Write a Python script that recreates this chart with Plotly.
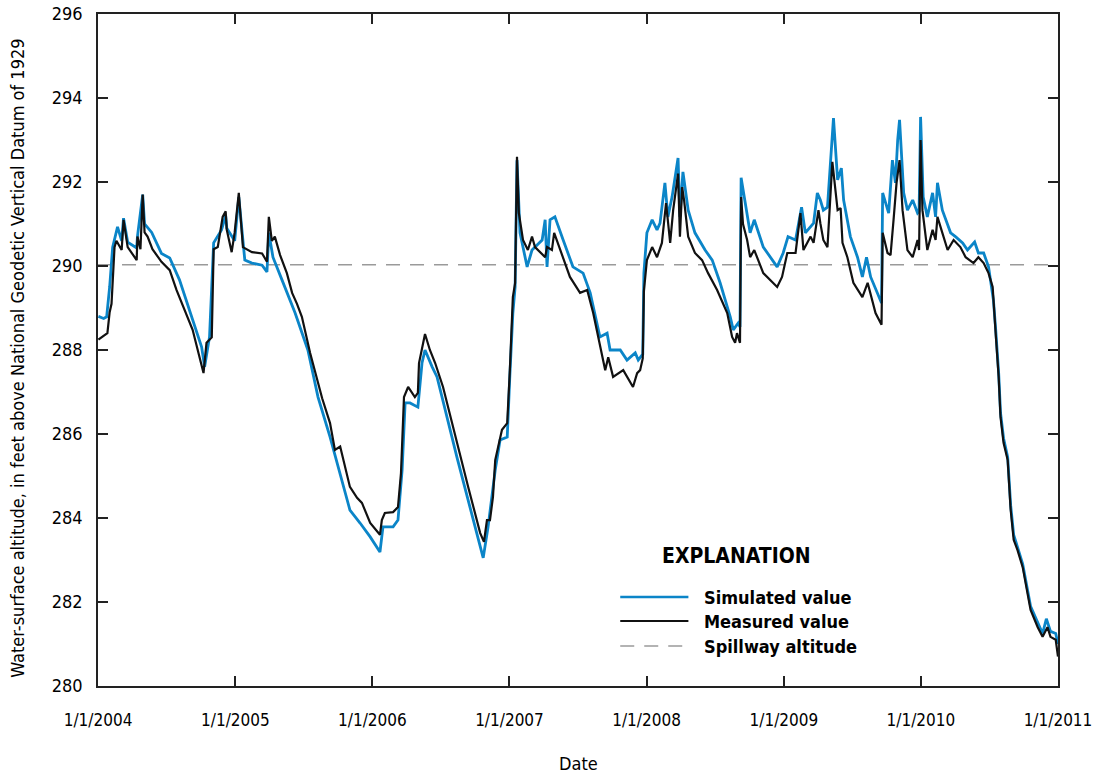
import plotly.graph_objects as go

# ---------------- data ----------------
measured_dates = [
    "2004-01-02", "2004-01-16", "2004-01-26", "2004-02-01", "2004-02-06", "2004-02-14", "2004-02-19",
    "2004-03-04", "2004-03-09", "2004-03-20", "2004-04-13", "2004-04-15", "2004-04-23", "2004-04-29",
    "2004-05-04", "2004-05-12", "2004-05-25", "2004-06-18", "2004-07-10", "2004-07-28", "2004-08-19",
    "2004-09-09", "2004-10-08", "2004-10-16", "2004-10-30", "2004-11-04", "2004-11-15", "2004-11-28",
    "2004-12-06", "2004-12-09", "2004-12-22", "2004-12-30",
    "2005-01-10", "2005-01-21", "2005-02-14", "2005-03-13", "2005-03-26", "2005-03-31", "2005-04-08",
    "2005-04-16", "2005-04-30", "2005-05-18", "2005-06-01", "2005-06-14", "2005-06-27", "2005-07-19",
    "2005-08-20", "2005-09-10", "2005-09-23", "2005-10-07", "2005-11-02", "2005-11-21", "2005-12-04",
    "2005-12-26",
    "2006-01-21", "2006-01-26", "2006-02-03", "2006-02-25", "2006-03-10", "2006-03-18", "2006-03-26",
    "2006-04-06", "2006-04-24", "2006-05-02", "2006-05-05", "2006-05-18", "2006-05-21", "2006-06-03",
    "2006-06-17", "2006-07-08", "2006-08-14", "2006-09-13", "2006-10-15", "2006-10-25", "2006-11-02",
    "2006-11-10", "2006-11-18", "2006-11-24", "2006-12-12", "2006-12-26",
    "2007-01-02", "2007-01-08", "2007-01-10", "2007-01-16", "2007-01-21", "2007-01-26", "2007-02-06",
    "2007-02-19", "2007-03-02", "2007-03-10", "2007-04-06", "2007-04-11", "2007-04-24", "2007-04-30",
    "2007-05-16", "2007-06-11", "2007-07-08", "2007-07-27", "2007-08-12", "2007-09-05", "2007-09-13",
    "2007-09-21", "2007-10-04", "2007-10-31", "2007-11-26", "2007-12-07", "2007-12-15", "2007-12-22",
    "2007-12-25",
    "2008-01-02", "2008-01-16", "2008-01-29", "2008-02-11", "2008-02-22", "2008-03-04", "2008-03-12",
    "2008-03-25", "2008-03-30", "2008-04-05", "2008-04-10", "2008-04-21", "2008-05-09", "2008-05-28",
    "2008-06-13", "2008-07-07", "2008-08-03", "2008-08-16", "2008-08-24", "2008-08-29", "2008-09-06",
    "2008-09-09", "2008-09-14", "2008-09-25", "2008-10-03", "2008-10-14", "2008-11-07", "2008-12-14",
    "2008-12-27",
    "2009-01-10", "2009-02-01", "2009-02-14", "2009-02-22", "2009-03-13", "2009-03-21", "2009-04-03",
    "2009-04-08", "2009-04-16", "2009-04-27", "2009-05-10", "2009-05-24", "2009-06-01", "2009-06-06",
    "2009-06-19", "2009-07-05", "2009-07-29", "2009-08-12", "2009-09-02", "2009-09-18", "2009-09-21",
    "2009-10-04", "2009-10-12", "2009-10-20", "2009-10-28", "2009-11-05", "2009-11-13", "2009-11-26",
    "2009-12-10", "2009-12-23", "2009-12-27", "2009-12-31",
    "2010-01-05", "2010-01-18", "2010-02-01", "2010-02-09", "2010-02-14", "2010-02-27", "2010-03-13",
    "2010-03-29", "2010-04-16", "2010-04-30", "2010-05-21", "2010-06-03", "2010-06-17", "2010-06-30",
    "2010-07-11", "2010-07-19", "2010-07-27", "2010-08-01", "2010-08-09", "2010-08-20", "2010-08-28",
    "2010-09-05", "2010-09-15", "2010-09-29", "2010-10-20", "2010-11-08", "2010-11-21", "2010-12-04",
    "2010-12-12", "2010-12-26", "2011-01-01",
]
measured_values = [
    288.25, 288.35, 288.4, 288.9, 289.1, 290.45, 290.6,
    290.38, 291.1, 290.45, 290.14, 290.7, 290.4, 291.7,
    290.8, 290.7, 290.4, 290.1, 289.9, 289.43, 288.95,
    288.48, 287.45, 288.17, 288.3, 290.4, 290.45, 291.17,
    291.3, 290.86, 290.33, 290.8,
    291.74, 290.45, 290.33, 290.3, 290.1, 291.17, 290.6,
    290.7, 290.26, 289.83, 289.36, 289.1, 288.79, 287.93,
    286.85, 286.26, 285.62, 285.7, 284.74, 284.48, 284.36,
    283.88,
    283.6, 283.95, 284.12, 284.14, 284.26, 285.07, 286.88,
    287.12, 286.88, 286.98, 287.69, 288.31, 288.38, 288.0,
    287.69, 287.12, 285.79, 284.74, 283.64, 283.43, 283.95,
    283.95, 284.5, 285.38, 286.1, 286.26,
    287.52, 288.71, 289.26, 289.6, 292.6, 291.26, 290.62,
    290.38, 290.7, 290.45, 290.21, 290.45, 290.38, 290.79,
    290.38, 289.74, 289.36, 289.43, 288.88, 287.83, 287.52,
    287.83, 287.36, 287.52, 287.12, 287.45, 287.52, 287.8,
    289.4,
    290.14, 290.45, 290.21, 290.55, 291.5, 290.55, 291.33,
    292.2, 290.7, 291.88, 291.57, 290.7, 290.31, 290.14,
    289.83, 289.43, 288.88, 288.31, 288.17, 288.4, 288.17,
    291.64, 291.0, 290.62, 290.21, 290.38, 289.83, 289.5,
    289.74,
    290.31, 290.31, 291.26, 290.38, 290.7, 290.55, 291.33,
    291.02, 290.62, 290.45, 292.48, 291.33, 291.38, 290.55,
    290.21, 289.6, 289.26, 289.6, 288.88, 288.6, 290.79,
    290.31, 290.26, 291.1, 291.98, 292.52, 291.33, 290.38,
    290.21, 290.62, 290.38, 293.0,
    291.33, 290.38, 290.86, 290.62, 291.17, 290.79, 290.38,
    290.62, 290.45, 290.21, 290.07, 290.21, 290.07, 289.83,
    289.5, 288.4, 287.36, 286.4, 285.79, 285.38, 284.19,
    283.48, 283.24, 282.83, 281.81, 281.4, 281.17, 281.4,
    281.17, 281.1, 280.7,
]

simulated_dates = [
    "2004-01-02", "2004-01-16", "2004-01-24", "2004-02-01", "2004-02-09", "2004-02-22", "2004-03-04",
    "2004-03-09", "2004-03-20", "2004-04-13", "2004-04-15", "2004-04-29", "2004-05-04", "2004-05-23",
    "2004-06-18", "2004-07-10", "2004-08-05", "2004-09-01", "2004-10-03", "2004-10-11", "2004-10-24",
    "2004-11-04", "2004-11-25", "2004-12-06", "2004-12-09", "2004-12-30",
    "2005-01-10", "2005-01-26", "2005-02-14", "2005-03-13", "2005-03-26", "2005-03-31", "2005-04-11",
    "2005-05-05", "2005-06-09", "2005-07-13", "2005-08-09", "2005-09-10", "2005-09-29", "2005-11-02",
    "2005-11-29", "2005-12-26",
    "2006-01-21", "2006-01-29", "2006-02-25", "2006-03-10", "2006-03-21", "2006-03-29", "2006-04-11",
    "2006-05-02", "2006-05-13", "2006-05-21", "2006-06-09", "2006-06-22", "2006-08-14", "2006-09-26",
    "2006-10-23", "2006-11-05", "2006-11-24", "2006-12-07", "2006-12-26",
    "2007-01-02", "2007-01-10", "2007-01-16", "2007-01-21", "2007-01-29", "2007-02-17", "2007-03-02",
    "2007-03-29", "2007-04-06", "2007-04-11", "2007-04-19", "2007-05-02", "2007-05-24", "2007-06-19",
    "2007-07-16", "2007-08-04", "2007-08-30", "2007-09-18", "2007-09-26", "2007-10-23", "2007-11-10",
    "2007-12-02", "2007-12-10", "2007-12-22", "2007-12-25",
    "2008-01-02", "2008-01-16", "2008-01-29", "2008-02-06", "2008-02-19", "2008-02-27", "2008-03-09",
    "2008-03-25", "2008-03-30", "2008-04-07", "2008-04-21", "2008-05-09", "2008-06-05", "2008-06-24",
    "2008-07-15", "2008-08-11", "2008-08-19", "2008-09-01", "2008-09-06", "2008-09-09", "2008-09-20",
    "2008-10-03", "2008-10-14", "2008-11-07", "2008-12-14", "2008-12-30",
    "2009-01-12", "2009-02-01", "2009-02-17", "2009-02-27", "2009-03-21", "2009-03-31", "2009-04-08",
    "2009-04-16", "2009-04-27", "2009-05-13", "2009-05-24", "2009-06-03", "2009-06-09", "2009-06-27",
    "2009-07-16", "2009-07-29", "2009-08-09", "2009-08-20", "2009-09-18", "2009-09-21", "2009-10-07",
    "2009-10-17", "2009-10-25", "2009-10-31", "2009-11-05", "2009-11-16", "2009-11-26", "2009-12-10",
    "2009-12-23", "2009-12-27", "2009-12-31",
    "2010-01-07", "2010-01-18", "2010-02-01", "2010-02-09", "2010-02-14", "2010-02-27", "2010-03-21",
    "2010-04-03", "2010-04-22", "2010-05-05", "2010-05-24", "2010-06-03", "2010-06-17", "2010-06-30",
    "2010-07-13", "2010-07-19", "2010-07-27", "2010-08-01", "2010-08-09", "2010-08-20", "2010-08-28",
    "2010-09-05", "2010-09-15", "2010-09-29", "2010-10-20", "2010-11-08", "2010-11-21", "2010-12-01",
    "2010-12-12", "2010-12-26", "2011-01-01",
]
simulated_values = [
    288.8, 288.75, 288.79, 289.5, 290.45, 290.93, 290.6,
    291.14, 290.57, 290.43, 290.7, 291.7, 291.0, 290.8,
    290.3, 290.19, 289.67, 288.95, 288.07, 287.6, 288.31,
    290.55, 290.86, 291.2, 290.9, 290.6,
    291.64, 290.14, 290.07, 290.02, 289.86, 290.79, 290.21,
    289.67, 288.88, 288.0, 286.88, 285.93, 285.31, 284.19,
    283.88, 283.55,
    283.19, 283.79, 283.79, 283.95, 285.14, 286.74, 286.74,
    286.64, 287.69, 288.0, 287.6, 287.36, 285.45, 283.95,
    283.05, 283.79, 285.14, 285.86, 285.93,
    287.4, 288.88, 289.5, 292.52, 290.79, 289.98, 290.38,
    290.62, 291.1, 289.98, 291.1, 291.17, 290.62, 289.98,
    289.83, 289.36, 288.31, 288.4, 288.0, 288.0, 287.76,
    287.93, 287.76, 287.9, 289.83,
    290.79, 291.1, 290.86, 291.02, 291.98, 291.17, 291.64,
    292.57, 291.17, 292.24, 291.33, 290.79, 290.38, 290.14,
    289.6, 288.79, 288.48, 288.64, 288.55, 292.1, 291.5,
    290.79, 291.1, 290.45, 289.98, 290.31,
    290.7, 290.62, 291.4, 290.79, 291.02, 291.74, 291.57,
    291.33, 291.4, 293.52, 292.05, 292.33, 291.57, 290.7,
    290.21, 289.74, 290.21, 289.74, 289.12, 291.74, 291.26,
    292.52, 291.98, 293.0, 293.48, 291.74, 291.33, 291.57,
    291.26, 291.3, 293.55,
    291.64, 291.17, 291.74, 291.17, 291.98, 291.33, 290.79,
    290.7, 290.55, 290.38, 290.57, 290.31, 290.31, 289.98,
    289.19, 288.5, 287.45, 286.5, 285.9, 285.45, 284.3,
    283.6, 283.3, 282.9, 281.9, 281.5, 281.25, 281.6,
    281.3, 281.25, 281.0,
]

spillway_dates = ["2004-01-01", "2011-01-01"]
spillway_values = [290.03, 290.03]

year_ticks = ["2004-01-01", "2005-01-01", "2006-01-01", "2007-01-01",
              "2008-01-01", "2009-01-01", "2010-01-01", "2011-01-01"]
year_labels = ["1/1/2004", "1/1/2005", "1/1/2006", "1/1/2007",
               "1/1/2008", "1/1/2009", "1/1/2010", "1/1/2011"]
y_ticks = [280, 282, 284, 286, 288, 290, 292, 294, 296]

legend_labels = ["Simulated value", "Measured value", "Spillway altitude"]

# ---------------- styles ----------------
FONT = "Liberation Sans Narrow, Arial Narrow, DejaVu Sans Condensed, sans-serif"
BLUE = "#0b85c8"
BLACK = "#111111"
GRAY = "#9a9a9a"

fig = go.Figure()
fig.add_trace(go.Scatter(x=spillway_dates, y=spillway_values, mode="lines",
                         line=dict(color=GRAY, width=1.6, dash="14px,10px"),
                         name=legend_labels[2], hoverinfo="skip"))
fig.add_trace(go.Scatter(x=simulated_dates, y=simulated_values, mode="lines",
                         line=dict(color=BLUE, width=2.8), name=legend_labels[0]))
fig.add_trace(go.Scatter(x=measured_dates, y=measured_values, mode="lines",
                         line=dict(color=BLACK, width=2.2), name=legend_labels[1]))

# manual legend (explanation box)
leg_x0, leg_x1, leg_tx = 0.544, 0.615, 0.629
rows_y = [0.1324, 0.0967, 0.0595]
styles = [dict(color=BLUE, width=2.6), dict(color=BLACK, width=2.0),
          dict(color=GRAY, width=1.6, dash="14px,10px")]
shapes = []
annotations = []
for yy, st, lab in zip(rows_y, styles, legend_labels):
    shapes.append(dict(type="line", xref="paper", yref="paper",
                       x0=leg_x0, x1=leg_x1, y0=yy, y1=yy, line=st))
    annotations.append(dict(xref="paper", yref="paper", x=leg_tx, y=yy, text=f"<b>{lab}</b>",
                            showarrow=False, xanchor="left", yanchor="middle",
                            font=dict(family=FONT, size=18, color="black")))
annotations.append(dict(xref="paper", yref="paper", x=0.665, y=0.1935, text="<b>EXPLANATION</b>",
                        showarrow=False, xanchor="center", yanchor="middle",
                        font=dict(family=FONT, size=21, color="black")))
annotations.append(dict(xref="paper", yref="paper", x=0.5, y=-0.116, text="Date",
                        showarrow=False, xanchor="center", yanchor="middle",
                        font=dict(family=FONT, size=18, color="black")))
annotations.append(dict(xref="paper", yref="paper", x=-0.0833, y=0.487,
                        text="Water-surface altitude, in feet above National Geodetic Vertical Datum of 1929",
                        textangle=-90, showarrow=False, xanchor="center", yanchor="middle",
                        font=dict(family=FONT, size=18, color="black")))

fig.update_layout(
    width=1094, height=780,
    margin=dict(l=98, r=36, t=14, b=94, autoexpand=False),
    paper_bgcolor="white", plot_bgcolor="white",
    showlegend=False,
    font=dict(family=FONT, size=18, color="black"),
    shapes=shapes, annotations=annotations,
)
fig.update_xaxes(type="date", range=["2003-12-31 23:00", "2011-01-01 01:00"],
                 tickvals=year_ticks, ticktext=year_labels,
                 ticks="inside", ticklen=10, tickwidth=1.5, tickcolor="#222",
                 showline=True, linecolor="#222", linewidth=1.5, mirror="ticks",
                 showgrid=False, zeroline=False, ticklabelstandoff=18,
                 ticklabeloverflow="allow", automargin=False,
                 tickfont=dict(family=FONT, size=17))
fig.update_yaxes(range=[280, 296], tickvals=y_ticks,
                 ticks="inside", ticklen=10, tickwidth=1.5, tickcolor="#222",
                 showline=True, linecolor="#222", linewidth=1.5, mirror="ticks",
                 showgrid=False, zeroline=False, ticklabelstandoff=10,
                 automargin=False,
                 tickfont=dict(family=FONT, size=18))

fig.write_html("out.html")
